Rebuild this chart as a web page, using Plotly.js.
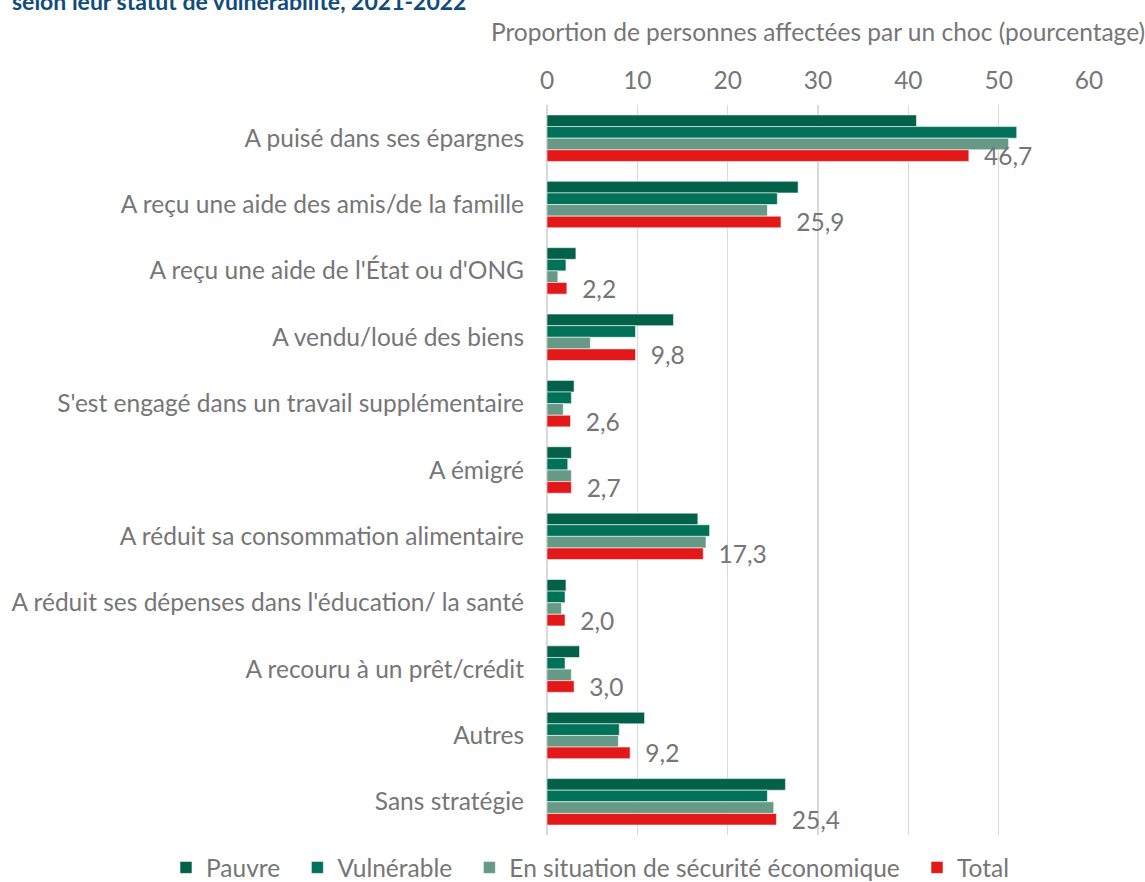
<!DOCTYPE html>
<html>
<head>
<meta charset="utf-8">
<script src="https://cdn.plot.ly/plotly-3.0.1.min.js"></script>
<style>html,body{margin:0;padding:0;background:#fff;}#chart{width:1145px;height:882px;}</style>
</head>
<body>
<div id="chart"></div>
<script>
const categories = [
  "A puisé dans ses épargnes",
  "A reçu une aide des amis/de la famille",
  "A reçu une aide de l'État ou d'ONG",
  "A vendu/loué des biens",
  "S'est engagé dans un travail supplémentaire",
  "A émigré",
  "A réduit sa consommation alimentaire",
  "A réduit ses dépenses dans l'éducation/ la santé",
  "A recouru à un prêt/crédit",
  "Autres",
  "Sans stratégie"
];
const pauvre      = [40.9, 27.8, 3.2, 14.0, 3.0, 2.7, 16.7, 2.1, 3.6, 10.8, 26.4];
const vulnerable  = [52.0, 25.5, 2.1,  9.8, 2.7, 2.3, 18.0, 2.0, 2.0,  8.0, 24.4];
const securite    = [51.1, 24.4, 1.2,  4.8, 1.8, 2.7, 17.6, 1.6, 2.7,  7.9, 25.1];
const total       = [46.7, 25.9, 2.2,  9.8, 2.6, 2.7, 17.3, 2.0, 3.0,  9.2, 25.4];
const seriesNames = ["Pauvre", "Vulnérable", "En situation de sécurité économique", "Total"];
const xTicks = [0, 10, 20, 30, 40, 50, 60];

const FONT = "Lato, 'Open Sans', sans-serif";
const GRAY = "#767676";
const FS = 24.5;
const colors = ["#03614a", "#00725a", "#679a86", "#e31818"];
const line = {color: "rgba(255,255,255,0.55)", width: 1};

function mk(vals, i, withText) {
  const t = {
    type: "bar", orientation: "h",
    name: seriesNames[i] + (i < 3 ? "\u2002" : ""),
    x: vals, y: categories,
    marker: {color: colors[i], line: line},
    hoverinfo: "x+name"
  };
  if (withText) {
    t.text = vals.map(v => "\u2002" + v.toFixed(1).replace(".", ","));
    t.textposition = "outside";
    t.constraintext = "none";
    t.textfont = {family: FONT, size: FS, color: GRAY};
    t.cliponaxis = false;
  } else {
    t.textposition = "none";
  }
  return t;
}

const data = [mk(pauvre, 0), mk(vulnerable, 1), mk(securite, 2), mk(total, 3, true)];

const layout = {
  width: 1145, height: 882,
  margin: {l: 547, r: 56, t: 105, b: 47, autoexpand: false},
  paper_bgcolor: "#fff", plot_bgcolor: "#fff",
  font: {family: FONT, color: GRAY, size: FS},
  barmode: "group", bargap: 0.3, bargroupgap: 0,
  showlegend: true,
  legend: {
    orientation: "h", xref: "paper", yref: "paper",
    x: -0.703, xanchor: "left", y: -0.0137, yanchor: "top",
    font: {family: FONT, size: FS, color: GRAY}, traceorder: "normal",
    itemwidth: 30
  },
  xaxis: {
    side: "top", range: [0, 60], tickvals: xTicks, ticktext: xTicks.map(String),
    showgrid: true, gridcolor: "#d9d9d9", gridwidth: 1.5,
    zeroline: true, zerolinecolor: "#d9d9d9", zerolinewidth: 1.5,
    showline: false, ticks: "", ticklabelstandoff: 10,
    tickfont: {family: FONT, size: FS, color: GRAY},
    title: {text: "Proportion de personnes affectées par un choc (pourcentage)", font: {family: FONT, size: FS, color: GRAY}, standoff: 16},
    fixedrange: true
  },
  yaxis: {
    type: "category", autorange: "reversed", showgrid: false, zeroline: false, showline: false,
    ticks: "", ticklabelstandoff: 22,
    tickfont: {family: FONT, size: FS, color: GRAY},
    fixedrange: true
  },
  annotations: [{
    text: "<b>selon leur statut de vulnérabilité, 2021-2022</b>",
    xref: "paper", yref: "paper", x: -0.9908, y: 1.1425, xanchor: "left", yanchor: "middle",
    showarrow: false, font: {family: FONT, size: 23, color: "#0f4c7c"}
  }]
};

Plotly.newPlot("chart", data, layout, {displayModeBar: false, staticPlot: true});
</script>
</body>
</html>
